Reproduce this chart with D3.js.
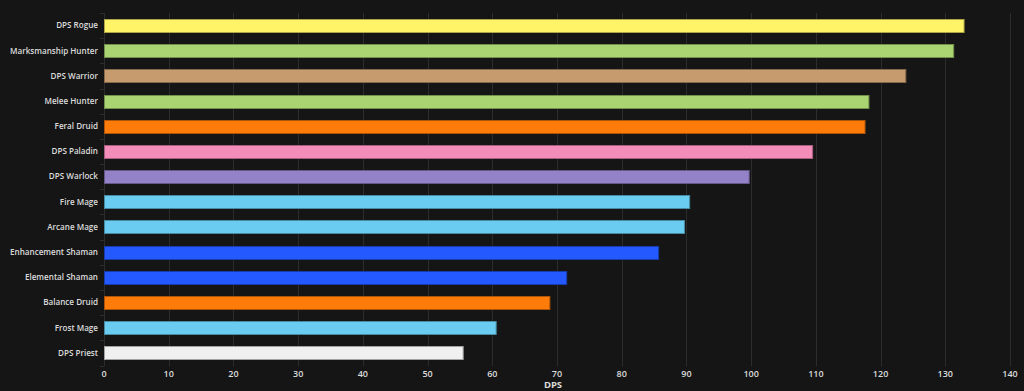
<!DOCTYPE html>
<html>
<head>
<meta charset="utf-8">
<script src="https://cdn.jsdelivr.net/npm/d3@7"></script>
<style>
  html, body { margin: 0; padding: 0; background: #151515; }
  .canvas { width: 1024px; height: 391px; overflow: hidden; }
  text { font-family: "Open Sans", sans-serif; font-weight: 600; fill: #dcdcdc; }
</style>
</head>
<body>
<div class="canvas"></div>
<script>
// specs, top to bottom
const specs = [
  "DPS Rogue", "Marksmanship Hunter", "DPS Warrior", "Melee Hunter",
  "Feral Druid", "DPS Paladin", "DPS Warlock", "Fire Mage", "Arcane Mage",
  "Enhancement Shaman", "Elemental Shaman", "Balance Druid", "Frost Mage",
  "DPS Priest"
];
const dps = [132.9, 131.3, 123.9, 118.2, 117.6, 109.5, 99.7, 90.5, 89.7, 85.7, 71.5, 68.9, 60.6, 55.5];
const colors = [
  "#fff468", "#aad372", "#c69b6d", "#aad372", "#ff7c0a", "#f48cba", "#9482c9",
  "#69ccf0", "#69ccf0", "#2459ff", "#2459ff", "#ff7c0a", "#69ccf0", "#f0f0f0"
];
const xTicks = [0, 10, 20, 30, 40, 50, 60, 70, 80, 90, 100, 110, 120, 130, 140];

const data = specs.map((name, i) => ({ name, value: dps[i], color: colors[i] }));

const margin = { top: 13, right: 14, bottom: 25, left: 104 };
const width = 1024, height = 391;
const graphWidth = width - margin.left - margin.right;
const graphHeight = height - margin.top - margin.bottom - 0.5;

const svg = d3
  .select(".canvas")
  .append("svg")
  .attr("width", width)
  .attr("height", height);

const graph = svg
  .append("g")
  .attr("transform", `translate(${margin.left}, ${margin.top})`);

const x = d3.scaleLinear().domain([0, 140]).range([0, graphWidth]);
const y = d3.scaleBand().domain(specs).range([0, graphHeight]).paddingInner(0.48).paddingOuter(0.24);
const band = d3.scaleBand().domain(specs).range([0, graphHeight]);

// vertical grid lines
graph
  .append("g")
  .selectAll("line")
  .data(xTicks)
  .join("line")
  .attr("x1", (d) => Math.round(x(d)) + 0.5)
  .attr("x2", (d) => Math.round(x(d)) + 0.5)
  .attr("y1", 0)
  .attr("y2", graphHeight + 1)
  .attr("stroke", "#2c2c2c");

// small ticks on the left at band edges
graph
  .append("g")
  .selectAll("line")
  .data(specs.concat([null]))
  .join("line")
  .attr("x1", -4)
  .attr("x2", 0)
  .attr("y1", (d) => Math.round(d === null ? graphHeight : band(d)) + 0.5)
  .attr("y2", (d) => Math.round(d === null ? graphHeight : band(d)) + 0.5)
  .attr("stroke", "#2c2c2c");

// bars
graph
  .append("g")
  .selectAll("rect")
  .data(data)
  .join("rect")
  .attr("x", 0.5)
  .attr("y", (d) => Math.round(y(d.name)) + 0.5)
  .attr("width", (d) => x(d.value) - 0.5)
  .attr("height", Math.round(y.bandwidth()))
  .attr("fill", (d) => d.color)
  .attr("stroke", (d) => d3.color(d.color).darker(1.1))
  .attr("stroke-width", 1);

// y labels
graph
  .append("g")
  .selectAll("text")
  .data(specs)
  .join("text")
  .attr("x", -6)
  .attr("y", (d) => band(d) + band.bandwidth() / 2)
  .attr("dy", "0.35em")
  .attr("text-anchor", "end")
  .attr("font-size", 8.1)
  .text((d) => d);

// x tick labels
graph
  .append("g")
  .selectAll("text")
  .data(xTicks)
  .join("text")
  .attr("x", (d) => x(d))
  .attr("y", graphHeight + 11)
  .attr("text-anchor", "middle")
  .attr("font-size", 9)
  .text((d) => d);

// x axis title at the bottom edge
svg
  .append("text")
  .attr("x", margin.left + graphWidth / 2 - 4)
  .attr("y", height - 3)
  .attr("text-anchor", "middle")
  .attr("font-size", 9.5)
  .style("font-weight", 700)
  .text("DPS");
</script>
</body>
</html>
